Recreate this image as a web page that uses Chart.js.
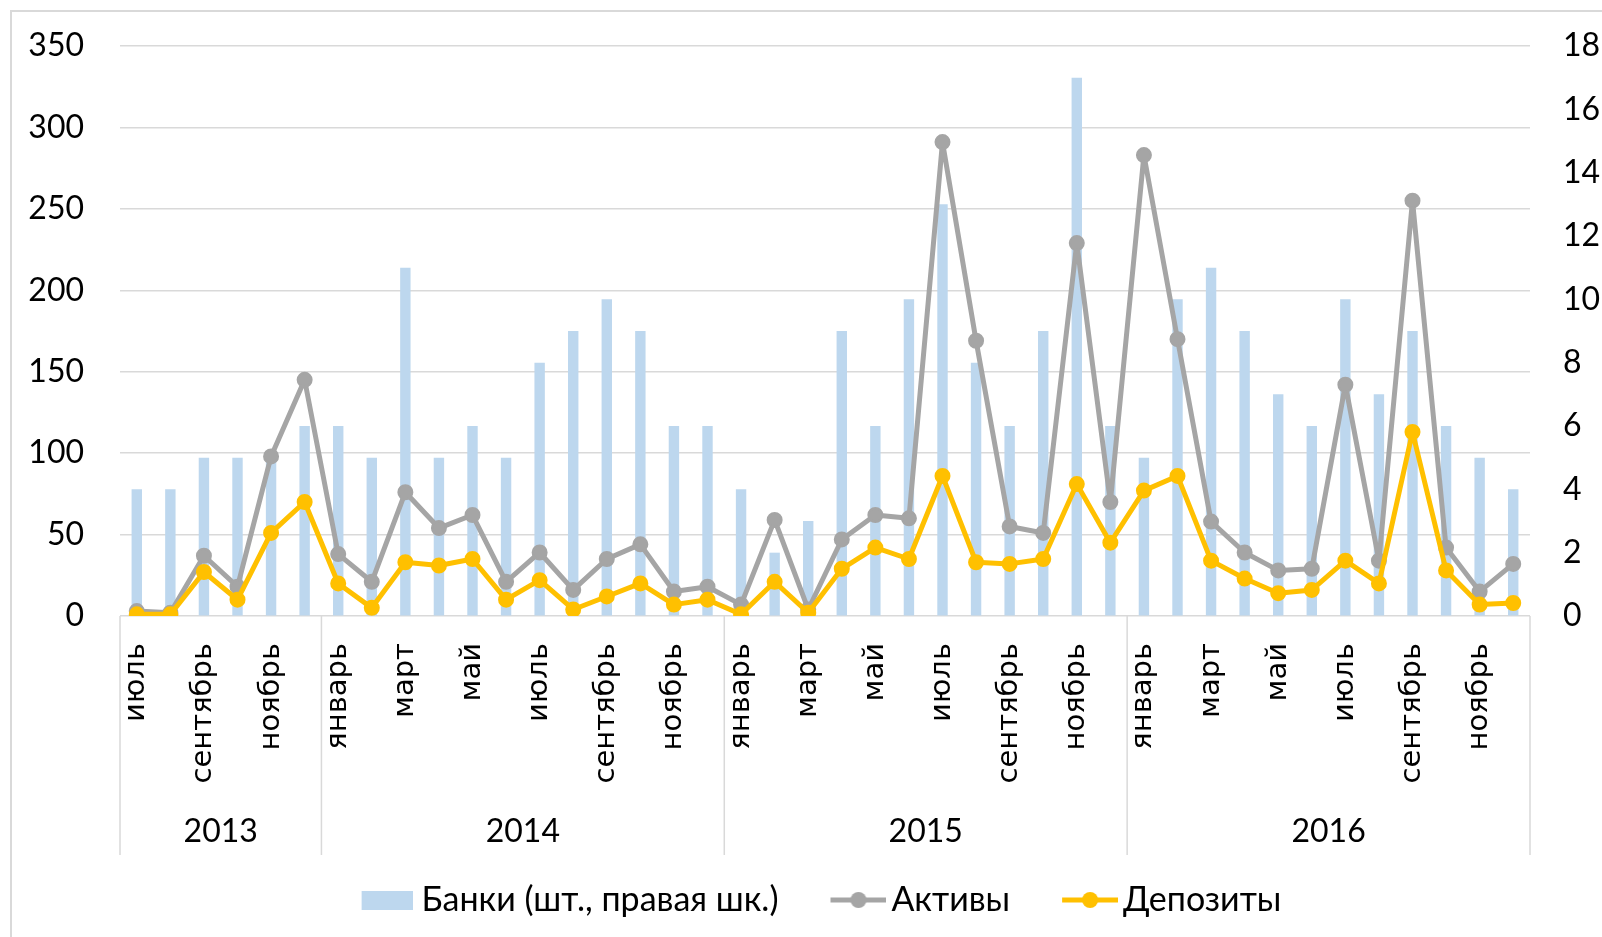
<!DOCTYPE html>
<html>
<head>
<meta charset="utf-8">
<script src="https://cdn.jsdelivr.net/npm/chart.js@4/dist/chart.umd.min.js"></script>
<style>
  body { margin: 0; background: #fff; }
  #wrap { width: 1602px; height: 937px; position: relative; }
</style>
</head>
<body>
<div id="wrap"><canvas id="chart"></canvas></div>
<script>
// Months, July 2013 - December 2016
const months = [
    'июль','август','сентябрь','октябрь','ноябрь','декабрь',
    'январь','февраль','март','апрель','май','июнь','июль','август','сентябрь','октябрь','ноябрь','декабрь',
    'январь','февраль','март','апрель','май','июнь','июль','август','сентябрь','октябрь','ноябрь','декабрь',
    'январь','февраль','март','апрель','май','июнь','июль','август','сентябрь','октябрь','ноябрь','декабрь'
];
const years = ['2013', '2014', '2015', '2016'];
const monthsPerYear = [6, 12, 12, 12];

// Banks (right scale)
const banks = [4,4,5,5,5,6, 6,5,11,5,6,5,8,9,10,9,6,6, 4,2,3,9,6,10,13,8,6,9,17,6, 5,10,11,9,7,6,10,7,9,6,5,4];
// Assets
const assets = [3,2,37,18,98,145, 38,21,76,54,62,21,39,16,35,44,15,18, 7,59,4,47,62,60,291,169,55,51,229,70, 283,170,58,39,28,29,142,34,255,42,15,32];
// Deposits
const deposits = [1,1,27,10,51,70, 20,5,33,31,35,10,22,4,12,20,7,10, 1,21,2,29,42,35,86,33,32,35,81,45, 77,86,34,23,14,16,34,20,113,28,7,8];

const leftTicks = [0, 350, 50];
const rightTicks = [0, 18, 2];

const BLUE = '#BDD7EE', GRAY = '#A5A5A5', GOLD = '#FFC000', GRID = '#D9D9D9';
const FONT = 'Lato';

// legend icons (visible part sits at the right end, next to the text)
function barIcon() {
    const c = document.createElement('canvas');
    c.width = 100; c.height = 19;
    const g = c.getContext('2d');
    g.fillStyle = BLUE;
    g.fillRect(100 - 51, 0, 51, 19);
    return c;
}
function lineIcon(color) {
    const c = document.createElement('canvas');
    c.width = 108; c.height = 18;
    const g = c.getContext('2d');
    g.strokeStyle = color;
    g.lineWidth = 5;
    g.beginPath(); g.moveTo(108 - 56, 9); g.lineTo(108, 9); g.stroke();
    g.fillStyle = color;
    g.beginPath(); g.arc(108 - 28, 9, 8, 0, Math.PI * 2); g.fill();
    return c;
}
const icons = [barIcon(), lineIcon(GRAY), lineIcon(GOLD)];

// border + year groups under the month axis
const decor = {
    id: 'decor',
    beforeDraw(chart) {
        const ctx = chart.ctx;
        ctx.save();
        ctx.strokeStyle = GRID;
        ctx.lineWidth = 2;
        ctx.strokeRect(11, 11, 1700, 1000);
        ctx.restore();
    },
    afterDraw(chart) {
        const ctx = chart.ctx, x = chart.scales.x, bottom = chart.chartArea.bottom;
        const half = (x.getPixelForValue(1) - x.getPixelForValue(0)) / 2;
        ctx.save();
        ctx.strokeStyle = GRID;
        ctx.lineWidth = 1.5;
        ctx.fillStyle = '#000';
        ctx.font = '32px ' + FONT;
        ctx.textAlign = 'center';
        ctx.textBaseline = 'middle';
        let start = 0;
        const edges = [x.getPixelForValue(0) - half];
        years.forEach((yr, i) => {
            const end = start + monthsPerYear[i] - 1;
            const l = x.getPixelForValue(start) - half;
            const r = x.getPixelForValue(end) + half;
            edges.push(r);
            ctx.fillText(yr, (l + r) / 2, bottom + 216);
            start = end + 1;
        });
        edges.forEach(e => {
            ctx.beginPath();
            ctx.moveTo(e, bottom);
            ctx.lineTo(e, bottom + 239);
            ctx.stroke();
        });
        ctx.restore();
    }
};

// fixed axis sizes, no extra label padding
const fixY = w => s => { s.width = w; s.paddingTop = 0; s.paddingBottom = 0; };

const lineStyle = color => ({
    type: 'line', borderColor: color, backgroundColor: color, borderWidth: 5,
    borderJoinStyle: 'round', borderCapStyle: 'round',
    pointRadius: 7, pointBorderWidth: 2, pointBackgroundColor: color, pointBorderColor: color,
    tension: 0, yAxisID: 'y'
});

const ctx = document.getElementById('chart').getContext('2d');
new Chart(ctx, {
    type: 'bar',
    data: {
        labels: months,
        datasets: [
            {
                type: 'bar', label: 'Банки (шт., правая шк.)', data: banks,
                backgroundColor: BLUE, yAxisID: 'y1', order: 3,
                barPercentage: 0.31, categoryPercentage: 1
            },
            Object.assign(lineStyle(GRAY), { label: 'Активы', data: assets, order: 2 }),
            Object.assign(lineStyle(GOLD), { label: 'Депозиты', data: deposits, order: 1 })
        ]
    },
    options: {
        responsive: true,
        maintainAspectRatio: false,
        animation: false,
        layout: { padding: { top: 46, bottom: 10, left: 0, right: 0 } },
        plugins: {
            tooltip: { enabled: false },
            legend: {
                position: 'bottom',
                labels: {
                    usePointStyle: true,
                    pointStyleWidth: 84,
                    boxHeight: 19,
                    padding: 12,
                    color: '#000',
                    font: { family: FONT, size: 34 },
                    generateLabels: chart => chart.data.datasets.map((ds, i) => ({
                        text: ds.label,
                        pointStyle: icons[i],
                        fillStyle: ds.backgroundColor,
                        strokeStyle: ds.backgroundColor,
                        lineWidth: 0,
                        hidden: false,
                        datasetIndex: i,
                        fontColor: '#000'
                    }))
                }
            }
        },
        scales: {
            x: {
                offset: true,
                grid: { display: false },
                border: { display: false },
                ticks: {
                    autoSkip: false, maxRotation: 90, minRotation: 90, padding: 19,
                    color: '#000', font: { family: 'DejaVu Sans', size: 29 },
                    callback: (v, i) => i % 2 === 0 ? months[i] : ''
                },
                afterFit: s => { s.height = 255; }
            },
            y: {
                position: 'left',
                min: leftTicks[0], max: leftTicks[1],
                ticks: { stepSize: leftTicks[2], padding: 36, color: '#000', font: { family: FONT, size: 32 } },
                grid: { color: GRID, lineWidth: 1.5, drawTicks: false },
                border: { display: false },
                afterFit: fixY(120)
            },
            y1: {
                position: 'right',
                min: rightTicks[0], max: rightTicks[1],
                ticks: { stepSize: rightTicks[2], padding: 33, color: '#000', font: { family: FONT, size: 32 } },
                grid: { drawOnChartArea: false, drawTicks: false },
                border: { display: false },
                afterFit: fixY(72)
            }
        }
    },
    plugins: [decor]
});
</script>
</body>
</html>
